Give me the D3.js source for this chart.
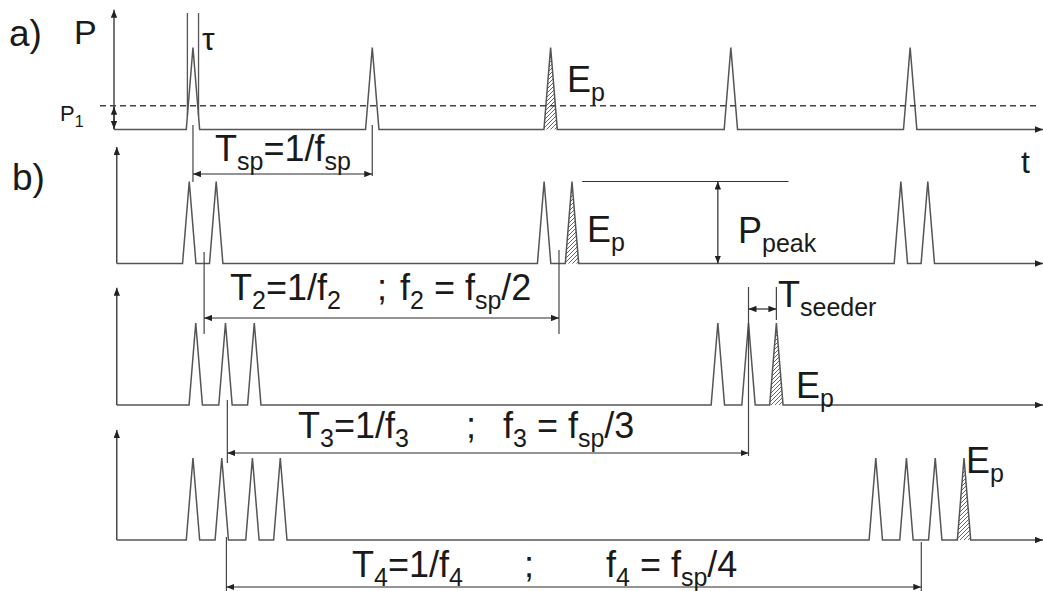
<!DOCTYPE html>
<html>
<head>
<meta charset="utf-8">
<script src="https://cdn.jsdelivr.net/npm/d3@7/dist/d3.min.js"></script>
<style>
  html, body { margin: 0; padding: 0; background: #fff; }
  svg { display: block; }
  text { font-family: "Liberation Sans", Arial, Helvetica, sans-serif; fill: #1a1a1a; }
</style>
</head>
<body>
<svg id="chart" width="1043" height="591"></svg>
<script>
// ---- time axis (arbitrary units) ----
const timeDomain = [0, 100];

// pulse centres on each trace
const pulsesA  = [8.5, 27.8, 47.0, 66.4, 85.7];
const pulsesB1 = [8.1, 11.0, 46.3, 49.3, 84.7, 87.6];
const pulsesB2 = [8.8, 12.0, 15.1, 65.0, 68.3, 71.3];
const pulsesB3 = [8.5, 11.6, 14.9, 17.9, 82.0, 85.3, 88.4, 91.5];

// pulse whose energy E_p is shaded, one per trace
const hatchedPulse = [47.0, 49.3, 71.3, 91.5];

// pulse shape and power levels (normalised to the peak power)
const pulseHalfWidth = 0.72;
const peakPower = 1;
const p1Level = 0.29;
const axisTopPower = [1.46, 1.42, 1.43, 1.34];
const traceStart = [0, 0.3, 0.3, 0.3];

// period markers: [start, end] in time units
const periodTsp = [8.5, 27.8];
const periodT2  = [9.7, 47.9];
const periodT3  = [12.2, 68.3];
const periodT4  = [12.1, 86.9];
const periodSeeder = [68.3, 71.3];
const tauMarks = [7.9, 9.1];
const peakRule = [50.4, 72.6, 65.0]; // line start, line end, arrow position

// ---- layout ----
const W = 1043, H = 591;
const baselines = [129.5, 263.5, 405, 540];
const powerPx = 82;

const svg = d3.select("#chart");
const x = d3.scaleLinear().domain(timeDomain).range([114, W]);
const yScales = baselines.map(b => d3.scaleLinear().domain([0, 1]).range([b, b - powerPx]));

const defs = svg.append("defs");
defs.append("marker")
  .attr("id", "arr").attr("viewBox", "0 0 10 8")
  .attr("refX", 10).attr("refY", 4)
  .attr("markerWidth", 8).attr("markerHeight", 6.4)
  .attr("markerUnits", "userSpaceOnUse")
  .attr("orient", "auto-start-reverse")
  .append("path").attr("d", "M0,0 L10,4 L0,8 Z").attr("fill", "#222");

defs.append("pattern")
  .attr("id", "hatch").attr("patternUnits", "userSpaceOnUse")
  .attr("width", 4).attr("height", 4)
  .append("path").attr("d", "M-1,1 l2,-2 M0,4 l4,-4 M3,5 l2,-2")
  .attr("stroke", "#555").attr("stroke-width", 0.9);

const traceColor = "#555";
const axisColor = "#2a2a2a";

function pulsePoints(pulses, start) {
  const pts = [[start, 0]];
  pulses.slice().sort((a, b) => a - b).forEach(c => {
    pts.push([c - pulseHalfWidth, 0], [c, peakPower], [c + pulseHalfWidth, 0]);
  });
  pts.push([timeDomain[1], 0]);
  return pts;
}

function drawTrace(i, pulses) {
  const y = yScales[i];
  const g = svg.append("g");
  // shaded pulse energy
  const c = hatchedPulse[i];
  g.append("path")
    .attr("d", d3.line().x(d => x(d[0])).y(d => y(d[1]))(
      [[c - pulseHalfWidth, 0], [c, peakPower], [c + pulseHalfWidth, 0]]) + "Z")
    .attr("fill", "url(#hatch)").attr("stroke", "none");
  // power axis
  g.append("line")
    .attr("x1", x(traceStart[i])).attr("x2", x(traceStart[i]))
    .attr("y1", y(0)).attr("y2", y(axisTopPower[i]))
    .attr("stroke", axisColor).attr("stroke-width", 1.3)
    .attr("marker-end", "url(#arr)");
  // pulse train
  g.append("path")
    .attr("d", d3.line().x(d => x(d[0])).y(d => y(d[1]))(pulsePoints(pulses, traceStart[i])))
    .attr("fill", "none").attr("stroke", traceColor).attr("stroke-width", 1.5)
    .attr("stroke-linejoin", "miter")
    .attr("marker-end", "url(#arr)");
}

[pulsesA, pulsesB1, pulsesB2, pulsesB3].forEach((p, i) => drawTrace(i, p));

// helpers for annotation lines
function seg(x1, y1, x2, y2, opts = {}) {
  const l = svg.append("line")
    .attr("x1", x1).attr("y1", y1).attr("x2", x2).attr("y2", y2)
    .attr("stroke", opts.color || axisColor).attr("stroke-width", opts.w || 1.2);
  if (opts.dash) l.attr("stroke-dasharray", opts.dash);
  if (opts.start) l.attr("marker-start", "url(#arr)");
  if (opts.end) l.attr("marker-end", "url(#arr)");
  return l;
}

// rich text: parts = [[string, "sub"|undefined], ...]
function label(px, py, parts, size, subSize, opts = {}) {
  const t = svg.append("text").attr("x", px).attr("y", py)
    .attr("font-size", size);
  let inSub = false;
  const drop = opts.drop != null ? opts.drop : Math.round(size * 0.24);
  parts.forEach(([s, kind]) => {
    const sp = t.append("tspan").text(s);
    if (kind === "sub") {
      sp.attr("font-size", subSize);
      if (!inSub) sp.attr("dy", drop);
      inSub = true;
    } else {
      if (inSub) sp.attr("dy", -drop);
      inSub = false;
    }
  });
  return t;
}

// ---- panel a annotations ----
const ya = yScales[0];
seg(100, ya(p1Level), 1037, ya(p1Level), { dash: "6,4", color: "#444", w: 1.4 });
seg(x(0), ya(p1Level) + 1, x(0), ya(0) - 0.5, { start: true, end: true });
tauMarks.forEach(t => seg(x(t), 13, x(t), ya(0.17), { color: "#555", w: 1.3 }));

// T_sp
seg(x(periodTsp[0]), 125, x(periodTsp[0]), 182, { color: "#444" });
seg(x(periodTsp[1]), 125, x(periodTsp[1]), 176, { color: "#444" });
seg(x(periodTsp[0]), 174, x(periodTsp[1]), 174, { start: true, end: true });

// ---- panel b1 annotations ----
const yb1 = yScales[1];
seg(x(peakRule[0]), yb1(peakPower), x(peakRule[1]), yb1(peakPower), { color: "#333" });
seg(x(peakRule[2]), yb1(peakPower), x(peakRule[2]), yb1(0), { start: true, end: true });
seg(x(periodT2[0]), 252, x(periodT2[0]), 334, { color: "#444" });
seg(x(periodT2[1]), 250, x(periodT2[1]), 334, { color: "#444" });
seg(x(periodT2[0]), 318, x(periodT2[1]), 318, { start: true, end: true });

// ---- panel b2 annotations ----
seg(x(periodSeeder[0]), 287, x(periodSeeder[0]), 456, { color: "#444" });
seg(x(periodSeeder[1]), 287, x(periodSeeder[1]), 320, { color: "#444" });
seg(x(periodSeeder[0]), 309, x(periodSeeder[1]), 309, { start: true, end: true });
seg(x(periodT3[0]), 400, x(periodT3[0]), 463, { color: "#444" });
seg(x(periodT3[0]), 453, x(periodT3[1]), 453, { start: true, end: true });

// ---- panel b3 annotations ----
seg(x(periodT4[0]), 537, x(periodT4[0]), 591, { color: "#444" });
seg(x(periodT4[1]), 542, x(periodT4[1]), 591, { color: "#444" });
seg(x(periodT4[0]), 587, x(periodT4[1]), 587, { start: true, end: true });

// ---- text ----
const big = 36, sub = 25;
label(9, 46, [["a)"]], 37, 24);
label(12, 190, [["b)"]], 37, 24);
label(74, 44, [["P"]], 34, 20);
label(202, 50, [["τ"]], 32, 20);
label(60, 121, [["P"], ["1", "sub"]], 22, 16, { drop: 6 });
label(1021, 173, [["t"]], 32, 20);

label(567, 92, [["E"], ["p", "sub"]], big, sub);
label(587, 242, [["E"], ["p", "sub"]], big, sub);
label(796, 398, [["E"], ["p", "sub"]], big, sub);
label(966, 473, [["E"], ["p", "sub"]], big, sub);
label(738, 243, [["P"], ["peak", "sub"]], big, sub);
label(778, 307, [["T"], ["seeder", "sub"]], big, sub);

label(215, 161, [["T"], ["sp", "sub"], ["=1/f"], ["sp", "sub"]], big, sub);

// period / repetition-rate relations, one line per trace
label(230, 300, [["T"], ["2", "sub"], ["=1/f"], ["2", "sub"]], big, sub);
label(377, 300, [[";"]], big, sub);
label(400, 300, [["f"], ["2", "sub"], [" = f"], ["sp", "sub"], ["/2"]], big, sub);

label(298, 438, [["T"], ["3", "sub"], ["=1/f"], ["3", "sub"]], big, sub);
label(466, 438, [[";"]], big, sub);
label(503, 438, [["f"], ["3", "sub"], [" = f"], ["sp", "sub"], ["/3"]], big, sub);

label(352, 577, [["T"], ["4", "sub"], ["=1/f"], ["4", "sub"]], big, sub);
label(524, 577, [[";"]], big, sub);
label(606, 577, [["f"], ["4", "sub"], [" = f"], ["sp", "sub"], ["/4"]], big, sub);
</script>
</body>
</html>
